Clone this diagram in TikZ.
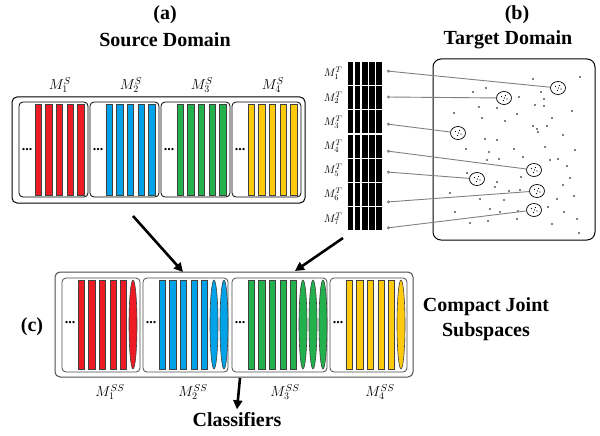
\documentclass[tikz,border=0pt]{standalone}
\usepackage[no-math]{fontspec}
\setmainfont{Liberation Serif}
\usetikzlibrary{arrows.meta,shapes.geometric}
\definecolor{barred}{HTML}{ED1C24}
\definecolor{barblue}{HTML}{00A2E8}
\definecolor{bargreen}{HTML}{22B14C}
\definecolor{baryellow}{HTML}{FFC90E}
\begin{document}
\begin{tikzpicture}[x=1pt,y=-1pt,
	title/.style={font=\fontsize{20}{25}\selectfont\bfseries,align=center},
	mlabel/.style={font=\fontsize{14}{16}\selectfont},
	bar/.style={draw=black!75,line width=0.6pt},
	box/.style={draw,rounded corners=4pt,line width=0.8pt},
	blob/.style={ellipse,draw,line width=0.7pt,minimum width=15pt,minimum height=13pt,inner sep=0pt},
	link/.style={draw=gray,line width=0.9pt,{Circle[open,length=3pt,width=3pt]}-},
	bigarrow/.style={line width=2.6pt,-{Triangle[length=9pt,width=9pt]}}]
	\useasboundingbox (0,0) rectangle (600,436);

	% titles
	\node[title] (ta) at (165,15) {(a)};
	\node[title] (sd) at (165,40) {Source Domain};
	\node[title] (tb) at (517,15) {(b)};
	\node[title] (td) at (508,40) {Target Domain};
	\node[title] (tc) at (32,327) {(c)};
	\node[title] (cj) at (486,319) {Compact Joint\\Subspaces};
	\node[title] (cl) at (237,420) {Classifiers};

	% (a) source domain
	\draw[rounded corners=5pt,line width=1pt] (12,97) rectangle (305,203);
	\foreach \c [count=\i] in {barred,barblue,bargreen,baryellow}{
		\pgfmathsetmacro{\l}{19+71*(\i-1)}
		\draw[box] (\l,102) rectangle (\l+69,197);
		\foreach \k in {0,...,4}
			\draw[bar,fill=\c] (\l+16+10.6*\k,104) rectangle ++(6.5,91);
		\node[font=\fontsize{14}{16}\selectfont\bfseries] (sdots\i) at (\l+8,150) {...};
		\node[mlabel] (ms\i) at (\l+41,85) {$M_{\i}^{S}$};
	}

	% (b) target domain
	\foreach \r in {1,...,7}{
		\foreach \k in {0,...,4}
			\fill (348+7.1*\k,62+24.2*\r-24.2) rectangle ++(5.3,23);
		\node[font=\fontsize{11}{13}\selectfont] (mt\r) at (333,73.5+24.2*\r-24.2) {$M_{\r}^{T}$};
	}
	\draw[rounded corners=8pt,line width=1pt] (433,59) rectangle (595,240);
	\foreach \x/\y in {533/79,580/77,473/92,486/88,519/97,541/92,544/99,479/107,497/108,535/105,
		544/106,572/111,454/113,482/118,517/114,505/121,552/118,533/126,537/129,538/132,547/126,
		563/135,485/139,497/140,466/149,489/152,514/149,545/147,575/150,499/159,487/160,523/157,
		550/160,558/159,567/166,467/173,497/182,521/177,495/187,509/191,520/190,563/185,570/178,
		574/196,450/193,480/199,504/200,557/199,548/207,455/212,490/209,500/212,518/211,564/212,
		577/219,470/223,488/221,517/219,552/224,579/233}
		\fill (\x,\y) circle (0.8);
	\foreach \n/\x/\y in {1/558/88,2/504/98,3/458/133,4/534/170,5/477/179,6/537/191,7/534/210}{
		\node[blob] (e\n) at (\x,\y) {};
		\foreach \dx/\dy in {-2.5/-1.5,1.5/-2.5,3/1,-0.5/2.5,0.5/0}
			\fill ([shift={(\dx,\dy)}]e\n.center) circle (0.7);
	}
	\foreach \n/\y in {1/71,2/97,3/124,4/151,5/172,6/202,7/228}{
		\coordinate (t\n) at (387,\y);
		\draw[link] (t\n) -- (e\n);
	}

	% (c) compact joint subspaces
	\draw[rounded corners=5pt,line width=1pt,draw=black!70] (55,272) rectangle (413,377);
	\foreach \l/\r/\c/\e/\lx [count=\i] in {62/140/barred/1/110,143/228/barblue/2/193,
		232/327/bargreen/3/285,330/407/baryellow/1/380}{
		\draw[box,draw=black!70] (\l,278) rectangle (\r,372);
		\foreach \k in {0,...,4}
			\draw[bar,fill=\c] (\l+16+10.6*\k,280) rectangle ++(6.2,89);
		\foreach \j in {1,...,\e}
			\draw[bar,fill=\c] (\l+16+55+10*\j-10,324.5) ellipse (4 and 44.5);
		\node[font=\fontsize{14}{16}\selectfont\bfseries] (cdots\i) at (\l+8,323) {...};
		\node[mlabel] (mss\i) at (\lx,392) {$M_{\i}^{SS}$};
	}

	% arrows
	\coordinate (srcout) at (133,216);
	\coordinate (tgtout) at (343,238);
	\coordinate (jointin1) at (183,272);
	\coordinate (jointin2) at (295,271);
	\coordinate (jointout) at (240,378);
	\draw[bigarrow] (srcout) -- (jointin1);
	\draw[bigarrow] (tgtout) -- (jointin2);
	\draw[bigarrow] (jointout) -- (cl.north);
\end{tikzpicture}
\end{document}
